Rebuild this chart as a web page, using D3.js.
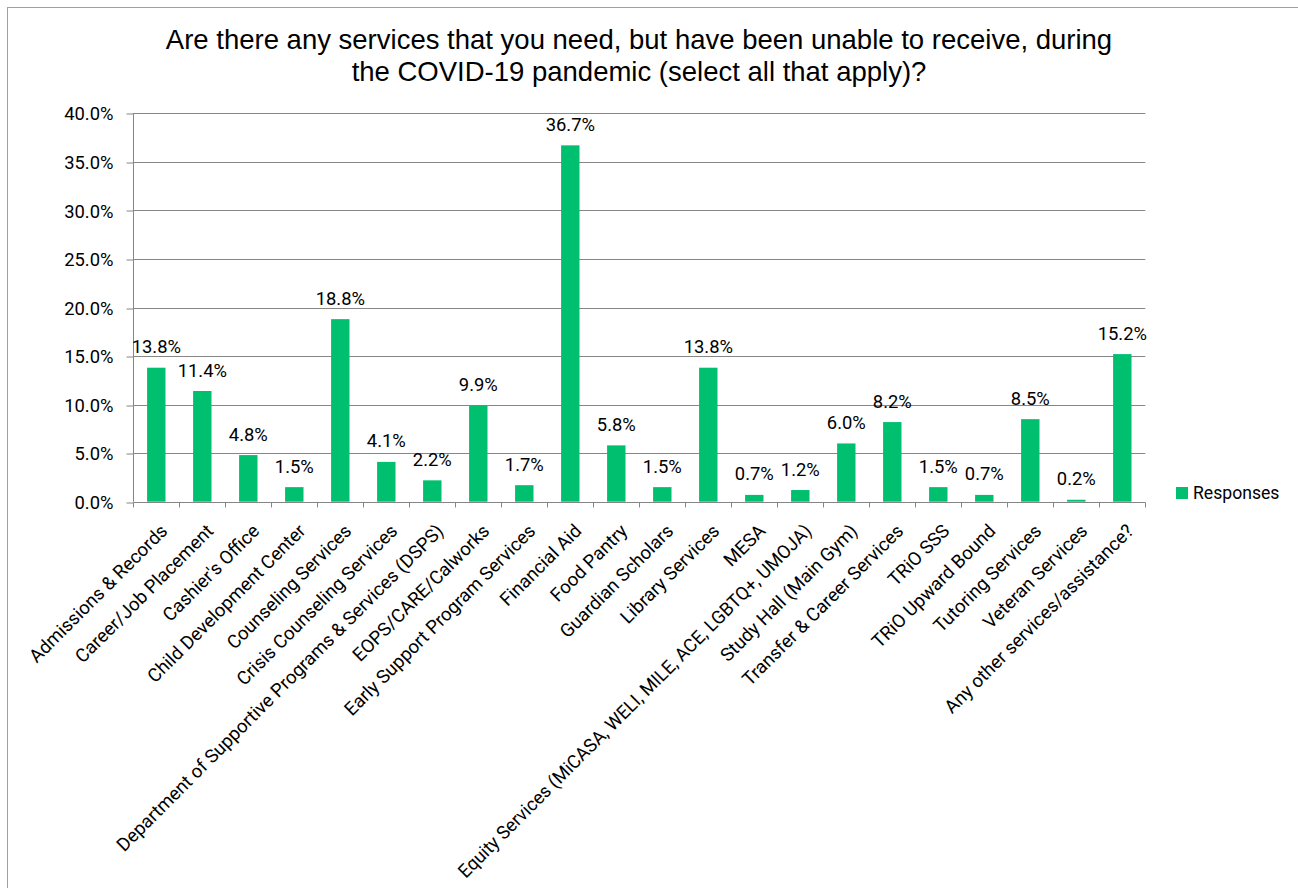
<!DOCTYPE html>
<html>
<head>
<meta charset="utf-8">
<script src="https://cdn.jsdelivr.net/npm/d3@7"></script>
<style>
  html, body { margin: 0; padding: 0; background: #fff; }
  svg { display: block; }
  .lbl { font-family: Roboto, Lato, "Open Sans", sans-serif; fill: #000; }
  .title { font-family: "Liberation Sans", Arial, sans-serif; fill: #000; }
</style>
</head>
<body>
<script>
// Survey responses: share of students naming each service (percent)
const categories = [
  "Admissions & Records",
  "Career/Job Placement",
  "Cashier's Office",
  "Child Development Center",
  "Counseling Services",
  "Crisis Counseling Services",
  "Department of Supportive Programs & Services (DSPS)",
  "EOPS/CARE/Calworks",
  "Early Support Program Services",
  "Financial Aid",
  "Food Pantry",
  "Guardian Scholars",
  "Library Services",
  "MESA",
  "Equity Services (MiCASA, WELI, MILE, ACE, LGBTQ+, UMOJA)",
  "Study Hall (Main Gym)",
  "Transfer & Career Services",
  "TRiO SSS",
  "TRiO Upward Bound",
  "Tutoring Services",
  "Veteran Services",
  "Any other services/assistance?"
];
const responses = [13.8, 11.4, 4.8, 1.5, 18.8, 4.1, 2.2, 9.9, 1.7, 36.7, 5.8, 1.5, 13.8, 0.7, 1.2, 6.0, 8.2, 1.5, 0.7, 8.5, 0.2, 15.2];
const yTicks = [0, 5, 10, 15, 20, 25, 30, 35, 40];
const seriesName = "Responses";
const titleLines = [
  "Are there any services that you need, but have been unable to receive, during",
  "the COVID-19 pandemic (select all that apply)?"
];

const W = 1298, H = 888;
const plot = { left: 133.3, right: 1145.3, top: 113.3, bottom: 501.7 };
const barColor = "#00BF6F";
const gridColor = "#868686";
const numSize = 18.4;
const catSize = 18.6;
const legendSize = 17.6;
const catBottomLimit = 879;   // lowest baseline point a category label may reach

const svg = d3.select("body").append("svg")
  .attr("width", W).attr("height", H);

// chart frame
svg.append("rect")
  .attr("x", 7.5).attr("y", 7.5)
  .attr("width", W + 20).attr("height", H + 20)
  .attr("fill", "none").attr("stroke", "#a0a0a0").attr("stroke-width", 1);

// title
svg.append("text").attr("class", "title")
  .attr("x", 639).attr("y", 49.3)
  .attr("text-anchor", "middle").attr("font-size", 27.5)
  .selectAll("tspan").data(titleLines).join("tspan")
  .attr("x", 639).attr("dy", (d, i) => i === 0 ? 0 : 31.4)
  .text(d => d);

const x = d3.scaleBand()
  .domain(categories)
  .range([plot.left, plot.right])
  .paddingInner(0.6)
  .paddingOuter(0.3);

const y = d3.scaleLinear()
  .domain([0, 40])
  .range([plot.bottom, plot.top]);

const snap = v => Math.round(v) + 0.5;

// horizontal gridlines
svg.append("g").selectAll("line").data(yTicks.filter(t => t > 0)).join("line")
  .attr("x1", plot.left).attr("x2", plot.right)
  .attr("y1", d => snap(y(d))).attr("y2", d => snap(y(d)))
  .attr("stroke", gridColor).attr("stroke-width", 1);

// y axis
const yAxis = svg.append("g")
  .attr("transform", `translate(${snap(plot.left)},0)`)
  .call(d3.axisLeft(y).tickValues(yTicks).tickSize(7).tickPadding(13)
    .tickFormat(d => d.toFixed(1) + "%"));
yAxis.select(".domain").attr("stroke", gridColor).attr("d", `M0,${plot.top}V${plot.bottom}`);
yAxis.selectAll(".tick line").attr("stroke", gridColor)
  .attr("transform", d => `translate(0,${snap(y(d)) - y(d)})`);
yAxis.selectAll(".tick text")
  .attr("class", "lbl").attr("font-size", numSize).attr("fill", "#000")
  .attr("dy", "0.36em");

// bars
svg.append("g").selectAll("rect").data(categories).join("rect")
  .attr("x", d => x(d))
  .attr("width", x.bandwidth())
  .attr("y", (d, i) => y(responses[i]))
  .attr("height", (d, i) => y(0) - y(responses[i]))
  .attr("fill", barColor);

// x axis line and category boundary ticks
const axisY = snap(plot.bottom);
svg.append("line")
  .attr("x1", plot.left).attr("x2", plot.right)
  .attr("y1", axisY).attr("y2", axisY)
  .attr("stroke", gridColor);
svg.append("g").selectAll("line").data(d3.range(categories.length + 1)).join("line")
  .attr("x1", i => snap(plot.left + i * x.step()))
  .attr("x2", i => snap(plot.left + i * x.step()))
  .attr("y1", axisY).attr("y2", axisY + 5)
  .attr("stroke", gridColor);

// rotated category labels, anchored at their end just below each band
const labelY = plot.bottom + 30.4;
svg.append("g").selectAll("text").data(categories).join("text")
  .attr("class", "lbl").attr("font-size", catSize)
  .attr("text-anchor", "end")
  .attr("transform", d => `translate(${x(d) + x.bandwidth() / 2 + 12.3},${labelY}) rotate(-45)`)
  .text(d => d)
  .each(function () {
    // keep long labels inside the frame
    const maxLen = (catBottomLimit - labelY) / Math.SQRT1_2;
    const len = this.getComputedTextLength();
    if (len > maxLen) {
      d3.select(this).attr("textLength", maxLen).attr("lengthAdjust", "spacingAndGlyphs");
    }
  });

// value labels
svg.append("g").selectAll("text").data(categories).join("text")
  .attr("class", "lbl").attr("font-size", numSize)
  .attr("text-anchor", "middle")
  .attr("x", d => x(d) + x.bandwidth() / 2)
  .attr("y", (d, i) => y(responses[i]) - 14.5)
  .text((d, i) => responses[i].toFixed(1) + "%");

// legend
const lg = svg.append("g").attr("transform", "translate(1176,487)");
lg.append("rect").attr("width", 12).attr("height", 12).attr("fill", barColor);
lg.append("text").attr("class", "lbl").attr("font-size", legendSize)
  .attr("x", 17).attr("y", 12).text(seriesName);
</script>
</body>
</html>
